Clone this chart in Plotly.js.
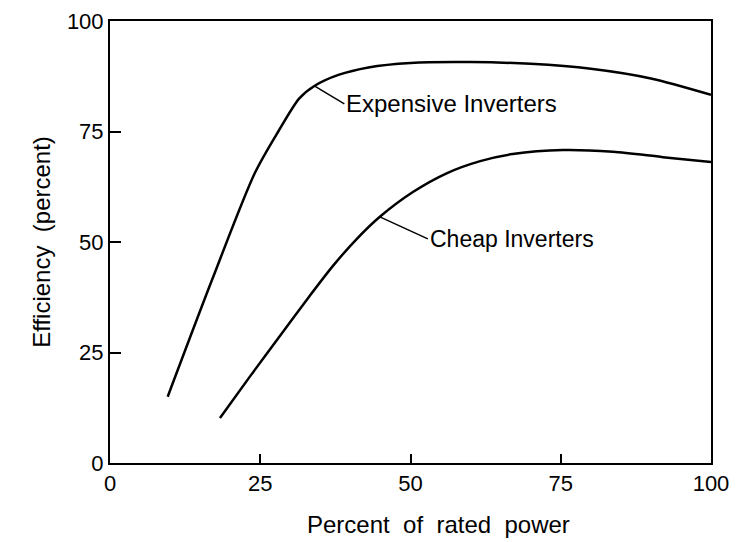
<!DOCTYPE html>
<html>
<head>
<meta charset="utf-8">
<script src="https://cdn.plot.ly/plotly-3.0.1.min.js"></script>
<style>html,body{margin:0;padding:0;background:#fff;}#chart{width:739px;height:542px;}</style>
</head>
<body>
<div id="chart"></div>
<script>
// Data
const expensiveX = [9.6, 17, 24.1, 28, 31.5, 34, 38, 43, 50, 60, 70, 80, 90, 100];
const expensiveY = [15, 41.5, 65.6, 75, 82.5, 85.3, 87.8, 89.5, 90.5, 90.7, 90.3, 89.2, 87, 83.3];
const cheapX = [18.3, 23.3, 28.3, 33, 37.1, 41, 44.9, 50.4, 56.1, 61.6, 67, 75.4, 83.7, 92, 100];
const cheapY = [10.2, 19.6, 28.8, 37.4, 44.6, 50.6, 55.7, 61.3, 65.6, 68.3, 69.9, 70.8, 70.4, 69.2, 68.1];
const tickValues = [0, 25, 50, 75, 100];
const tickLabels = ["0", "25", "50", "75", "100"];
const seriesNames = ["Expensive Inverters", "Cheap Inverters"];
const xTitle = "Percent\u00a0\u00a0of\u00a0\u00a0rated\u00a0\u00a0power";
const yTitle = "Efficiency\u00a0\u00a0(percent)";
const labelIndex = [5, 6]; // curve point where each leader line touches

const FONT = "Liberation Sans, Arial, sans-serif";
const lineStyle = {color: "#000", width: 2.5, shape: "spline", smoothing: 0.8};

const traces = [
  {x: expensiveX, y: expensiveY, mode: "lines", line: lineStyle, name: seriesNames[0], hoverinfo: "skip"},
  {x: cheapX, y: cheapY, mode: "lines", line: lineStyle, name: seriesNames[1], hoverinfo: "skip"}
];

const axisCommon = {
  showline: true, mirror: true, linecolor: "#000", linewidth: 2,
  showgrid: false, zeroline: false, ticks: "inside", tickcolor: "#000", tickwidth: 2,
  tickvals: tickValues, ticktext: tickLabels,
  tickfont: {family: FONT, size: 22, color: "#000"}
};

const layout = {
  width: 739, height: 542,
  margin: {l: 110, r: 28, t: 21, b: 79},
  paper_bgcolor: "#fff", plot_bgcolor: "#fff",
  showlegend: false,
  xaxis: Object.assign({}, axisCommon, {range: [0, 100], ticklen: 9}),
  yaxis: Object.assign({}, axisCommon, {
    range: [0, 100], ticklen: 11,
    title: {text: yTitle, font: {family: FONT, size: 24, color: "#000"}, standoff: 9}
  }),
  annotations: [
    {x: 0.547, y: -0.14, xref: "paper", yref: "paper", text: xTitle, showarrow: false,
     xanchor: "center", yanchor: "middle", font: {family: FONT, size: 24, color: "#000"}},
    {x: expensiveX[labelIndex[0]], y: expensiveY[labelIndex[0]], xref: "x", yref: "y",
     text: seriesNames[0], showarrow: true, arrowhead: 0, arrowwidth: 1.5, arrowcolor: "#000",
     ax: 30, ay: 18, xanchor: "left", yanchor: "middle",
     font: {family: FONT, size: 24, color: "#000"}},
    {x: cheapX[labelIndex[1]], y: cheapY[labelIndex[1]], xref: "x", yref: "y",
     text: seriesNames[1], showarrow: true, arrowhead: 0, arrowwidth: 1.5, arrowcolor: "#000",
     ax: 48, ay: 22, xanchor: "left", yanchor: "middle",
     font: {family: FONT, size: 23, color: "#000"}}
  ]
};

Plotly.newPlot("chart", traces, layout, {staticPlot: true, displayModeBar: false});
</script>
</body>
</html>
